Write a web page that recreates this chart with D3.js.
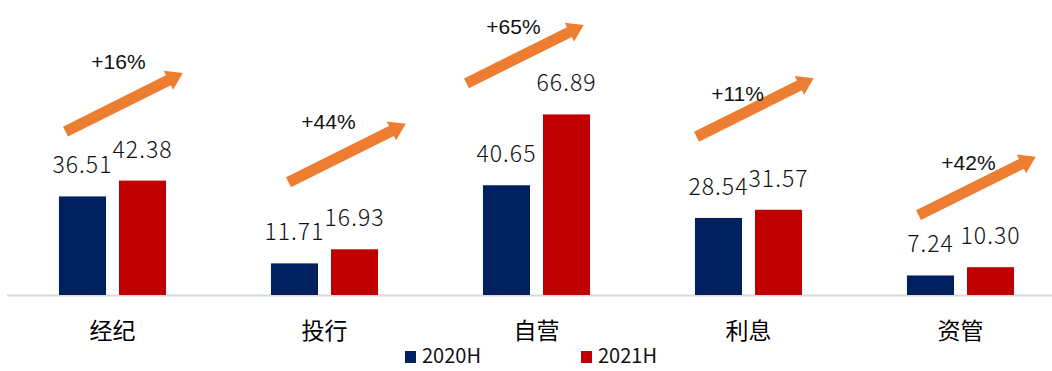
<!DOCTYPE html>
<html>
<head>
<meta charset="utf-8">
<script src="https://cdn.jsdelivr.net/npm/d3@7"></script>
<style>
  body { margin: 0; background: #fff; }
  svg { display: block; }
</style>
</head>
<body>
<div id="chart-area"></div>
<script>
// data
const categories = ["经纪", "投行", "自营", "利息", "资管"]
const seriesNames = ["2020H", "2021H"]
const values2020 = [36.51, 11.71, 40.65, 28.54, 7.24]
const values2021 = [42.38, 16.93, 66.89, 31.57, 10.30]
const growthLabels = ["+16%", "+44%", "+65%", "+11%", "+42%"]

const colors = ["#002060", "#C00000"]
const arrowColor = "#ED7D31"

// arrow placement (offset from group centre / top of the 2021H bar), hand tuned
const arrowOffsets = [
    {dx: -47, dy: -49, lx: 53, ly: -70},
    {dx: -36, dy: -67, lx: 40, ly: -60},
    {dx: -70, dy: -31, lx: 47, ly: -56},
    {dx: -52, dy: -73, lx: 41, ly: -43},
    {dx: -42, dy: -52, lx: 50, ly: -52}
]

const chartAreaWidth = 1052
const chartAreaHeight = 371
const baseY = 295

const svg = d3.select("#chart-area").append("svg")
    .attr("width", chartAreaWidth)
    .attr("height", chartAreaHeight)

const data = categories.map((c, i) => ({cat: c, vals: [values2020[i], values2021[i]]}))

const x0 = d3.scaleBand()
    .domain(categories)
    .range([6.5, 1066.5])
    .paddingInner(0.495)
    .paddingOuter(0.2475)

const x1 = d3.scaleBand()
    .domain(seriesNames)
    .range([0, x0.bandwidth()])
    .paddingInner(0.2167)

const y = d3.scaleLinear()
    .domain([0, 80])
    .range([baseY, baseY - 216])

// x axis: gray baseline + category names
const xAxis = svg.append("g")
    .attr("transform", `translate(0,${baseY})`)
    .call(d3.axisBottom(x0).tickSize(0).tickSizeOuter(0))

xAxis.select(".domain")
    .attr("stroke", "#d9d9d9")
    .attr("stroke-width", 2)

xAxis.selectAll(".tick text")
    .attr("y", 44)
    .attr("dy", 0)
    .attr("fill", "#000")
    .style("font-family", "'Noto Sans CJK SC', sans-serif")
    .style("font-size", "23px")

// bars
const groups = svg.selectAll(".grp")
    .data(data)
    .enter().append("g")
    .attr("class", "grp")
    .attr("transform", d => `translate(${x0(d.cat)},0)`)

groups.selectAll("rect")
    .data(d => d.vals.map((v, j) => ({name: seriesNames[j], v: v, j: j})))
    .enter().append("rect")
    .attr("x", d => x1(d.name))
    .attr("width", x1.bandwidth())
    .attr("y", d => y(d.v))
    .attr("height", d => baseY - y(d.v))
    .attr("fill", d => colors[d.j])

// value labels
groups.selectAll("text.val")
    .data(d => d.vals.map((v, j) => ({name: seriesNames[j], v: v})))
    .enter().append("text")
    .attr("class", "val")
    .attr("x", d => x1(d.name) + x1.bandwidth() / 2)
    .attr("y", d => y(d.v) - 23)
    .attr("text-anchor", "middle")
    .style("font-family", "'Noto Sans CJK SC', sans-serif")
    .style("font-size", "23px")
    .style("font-weight", 300)
    .style("letter-spacing", "1px")
    .attr("fill", "#111")
    .text(d => d.v.toFixed(2))

// growth arrows
const arrowLen = 131, shaft = 5.5, headLen = 16, headHalf = 10.5
const arrowPts = [
    [0, -shaft], [arrowLen - headLen, -shaft], [arrowLen - headLen, -headHalf],
    [arrowLen, 0], [arrowLen - headLen, headHalf], [arrowLen - headLen, shaft], [0, shaft]
]

data.forEach((d, i) => {
    const o = arrowOffsets[i]
    const cx = x0(d.cat) + x0.bandwidth() / 2
    const sx = cx + o.dx
    const sy = y(d.vals[1]) + o.dy

    svg.append("polygon")
        .attr("points", arrowPts.map(p => p.join(",")).join(" "))
        .attr("fill", arrowColor)
        .attr("transform", `translate(${sx},${sy}) rotate(-26.5)`)

    svg.append("text")
        .attr("x", sx + o.lx)
        .attr("y", sy + o.ly + 7)
        .attr("text-anchor", "middle")
        .style("font-family", "'Liberation Sans', Arial, sans-serif")
        .style("font-size", "21px")
        .attr("fill", "#111")
        .text(growthLabels[i])
})

// legend
const legend = svg.append("g")
    .attr("transform", "translate(405,351)")

seriesNames.forEach((s, j) => {
    const lg = legend.append("g").attr("transform", `translate(${j * 176},0)`)
    lg.append("rect")
        .attr("width", 11)
        .attr("height", 12)
        .attr("fill", colors[j])
    lg.append("text")
        .attr("x", 17)
        .attr("y", 12)
        .style("font-family", "'Noto Sans CJK SC', sans-serif")
        .style("font-size", "20px")
        .attr("fill", "#111")
        .text(s)
})
</script>
</body>
</html>
